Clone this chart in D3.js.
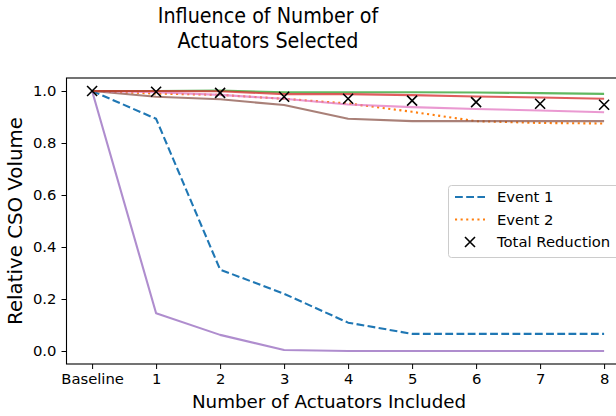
<!DOCTYPE html>
<html><head><meta charset="utf-8">
<script src="https://cdn.jsdelivr.net/npm/d3@7"></script>
<style>body{margin:0;background:#fff}svg{display:block;font-family:"DejaVu Sans",sans-serif}</style>
</head><body><svg id="c" width="616" height="416"></svg>
<script>
const categories = ["Baseline","1","2","3","4","5","6","7","8"];
const xIdx = [0,1,2,3,4,5,6,7,8];
const event1 = [1.0,0.893,0.313,0.22,0.109,0.066,0.066,0.066,0.066];
const event2 = [1.0,0.99,0.985,0.97,0.952,0.92,0.884,0.877,0.875];
const green  = [1.0,1.0,1.002,0.995,0.995,0.995,0.994,0.992,0.989];
const red    = [1.0,1.0,0.999,0.988,0.988,0.984,0.979,0.975,0.97];
const pink   = [1.0,0.995,0.985,0.97,0.948,0.938,0.931,0.925,0.918];
const brown  = [1.0,0.978,0.968,0.946,0.893,0.884,0.884,0.884,0.884];
const purple = [1.0,0.145,0.062,0.004,0.0,0.0,0.0,0.0,0.0];
const total  = [1.0,0.997,0.993,0.978,0.97,0.963,0.957,0.951,0.947];
const yTicks = [0.0,0.2,0.4,0.6,0.8,1.0];

const svg = d3.select("#c");
const x = d3.scaleLinear().domain([-0.4,8.4]).range([66.5,629.7]);
const y = d3.scaleLinear().domain([-0.05,1.05]).range([364,78]);

const tg = svg.append("g").attr("transform","translate(268,0) scale(0.94,1)");
tg.append("text").attr("x",0).attr("y",23).attr("text-anchor","middle").attr("font-size",20.4).text("Influence of Number of");
tg.append("text").attr("x",0).attr("y",48).attr("text-anchor","middle").attr("font-size",20.4).text("Actuators Selected");

const line = d3.line().x((d,i)=>x(xIdx[i])).y(d=>y(d));
const g = svg.append("g");
function draw(data,color,opts){
  const p = g.append("path").datum(data).attr("d",line).attr("fill","none")
    .attr("stroke",color).attr("stroke-width",opts.w||2.1).attr("stroke-opacity",opts.o||1)
    .attr("stroke-linejoin","round");
  if(opts.dash) p.attr("stroke-dasharray",opts.dash);
}
draw(event1,"#1f77b4",{dash:"7.8,3.4"});
draw(event2,"#ff7f0e",{dash:"2.1,3.5"});
draw(brown,"#8c564b",{o:0.75});
draw(purple,"#9467bd",{o:0.75});
draw(pink,"#e377c2",{o:0.75});
draw(green,"#2ca02c",{o:0.75});
draw(red,"#d62728",{o:0.75});

const ms = 5;
total.forEach((v,i)=>{
  const cx=x(xIdx[i]), cy=y(v);
  g.append("path").attr("d",`M${cx-ms},${cy-ms}L${cx+ms},${cy+ms}M${cx-ms},${cy+ms}L${cx+ms},${cy-ms}`)
   .attr("stroke","#000").attr("stroke-width",1.6).attr("fill","none");
});

svg.append("rect").attr("x",66.5).attr("y",78).attr("width",629.7-66.5).attr("height",364-78)
  .attr("fill","none").attr("stroke","#000").attr("stroke-width",1.1);

const xa = svg.append("g").attr("transform","translate(0,364)")
  .call(d3.axisBottom(x).tickValues(xIdx).tickFormat(i=>categories[i]).tickSize(5).tickPadding(4));
const ya = svg.append("g").attr("transform","translate(66.5,0)")
  .call(d3.axisLeft(y).tickValues(yTicks).tickFormat(d3.format(".1f")).tickSize(5).tickPadding(5));
[xa,ya].forEach(a=>{a.select(".domain").remove();a.selectAll("text").attr("font-size",14.8).attr("fill","#000").attr("font-family","DejaVu Sans");a.selectAll("line").attr("stroke","#000").attr("stroke-width",1);});

svg.append("text").attr("x",329).attr("y",408).attr("text-anchor","middle").attr("font-size",18.3).text("Number of Actuators Included");
svg.append("text").attr("transform","translate(22,221) rotate(-90)").attr("text-anchor","middle").attr("font-size",19.8).text("Relative CSO Volume");

const lg = svg.append("g");
lg.append("rect").attr("x",448.5).attr("y",185.5).attr("width",180).attr("height",72).attr("rx",3)
  .attr("fill","#fff").attr("fill-opacity",0.8).attr("stroke","#cccccc").attr("stroke-width",1);
const items = [
  {label:"Event 1",color:"#1f77b4",dash:"7.8,3.4",type:"line"},
  {label:"Event 2",color:"#ff7f0e",dash:"2.1,3.5",type:"line"},
  {label:"Total Reduction",color:"#000",type:"marker"}];
items.forEach((it,i)=>{
  const yy = 197+i*22.5;
  if(it.type==="line"){
    lg.append("line").attr("x1",455).attr("x2",485).attr("y1",yy).attr("y2",yy)
      .attr("stroke",it.color).attr("stroke-width",2.1).attr("stroke-dasharray",it.dash);
  } else {
    const cx=470, cy=yy;
    lg.append("path").attr("d",`M${cx-ms},${cy-ms}L${cx+ms},${cy+ms}M${cx-ms},${cy+ms}L${cx+ms},${cy-ms}`)
      .attr("stroke","#000").attr("stroke-width",1.6);
  }
  lg.append("text").attr("x",497).attr("y",yy+5.3).attr("font-size",14.8).text(it.label);
});
</script></body></html>
